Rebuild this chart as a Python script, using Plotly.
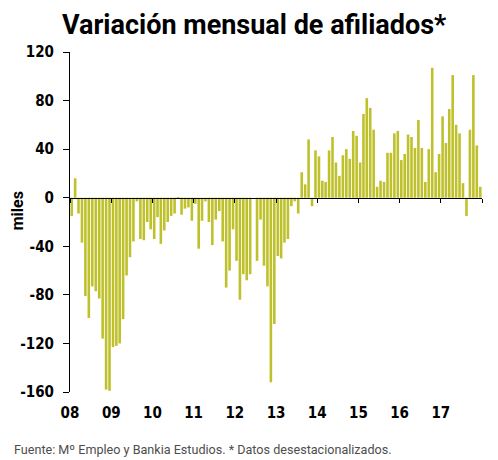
import pandas as pd
import plotly.graph_objects as go

# variacion mensual de afiliados (miles), datos desestacionalizados
v2008 = [-15, 16, -13, -37, -81, -99, -73, -77, -83, -116, -158, -159]
v2009 = [-123, -122, -120, -100, -64, -49, -36, -3, -34, -35, -20, -26]
v2010 = [-34, -16, -38, -27, -20, -15, -13, -1, -14, -9, -8, -19]
v2011 = [-5, -42, -19, -3, -20, -39, -18, -11, -36, -74, -60, -26]
v2012 = [-52, -84, -63, -68, -63, 0, -52, -18, -56, -73, -152, -104]
v2013 = [-48, -50, -37, -34, -7, -3, -13, 21, 11, 48, -7, 39]
v2014 = [34, 14, 13, 39, 50, 29, 18, 35, 40, 32, 55, 51]
v2015 = [29, 69, 82, 74, 56, 9, 14, 13, 37, 37, 53, 55]
v2016 = [31, 36, 52, 50, 41, 64, 41, 13, 40, 107, 21, 36]
v2017 = [67, 45, 73, 101, 60, 53, 12, -15, 56, 101, 43, 9]

year_labels = ["08", "09", "10", "11", "12", "13", "14", "15", "16", "17"]
y_ticks = [120, 80, 40, 0, -40, -80, -120, -160]

values = v2008 + v2009 + v2010 + v2011 + v2012 + v2013 + v2014 + v2015 + v2016 + v2017
months = pd.date_range("2008-01-01", periods=len(values), freq="MS")
year_starts = pd.date_range("2008-01-01", periods=len(year_labels) + 1, freq="YS")

bar_color = "#BFC12C"
tick_font = dict(family="DejaVu Sans Condensed, DejaVu Sans", size=15, color="black", weight="bold")

# the page has an 8px body margin, so the figure is a bit smaller than the window
W, H = 490, 452
L, R, T, B = 60, 16, 44, 68
pw, ph = W - L - R, H - T - B

fig = go.Figure()
fig.add_bar(x=months, y=values, xperiod="M1", xperiodalignment="middle",
            marker_color=bar_color, marker_line_width=0, showlegend=False)
# carries the zero line axis (ticks on the zero line)
fig.add_scatter(x=months, y=values, xaxis="x2", mode="none",
                hoverinfo="skip", showlegend=False)

x_range = [year_starts[0], year_starts[-1]]
zero_pos = (0 - y_ticks[-1]) / (y_ticks[0] - y_ticks[-1])

fig.update_layout(
    width=W, height=H,
    margin=dict(l=L, r=R, t=T, b=B),
    plot_bgcolor="white", paper_bgcolor="white",
    bargap=0.22,
    title=dict(text="<b>Variación mensual de afiliados*</b>",
               font=dict(family="Roboto", size=27, color="black"),
               xref="container", x=54 / W, xanchor="left",
               yref="container", y=1 - 17 / H, yanchor="middle"),
    xaxis=dict(type="date", range=x_range,
               tickvals=year_starts[:-1], ticktext=year_labels,
               ticks="", showline=False, showgrid=False, zeroline=False,
               tickfont=tick_font, ticklabelstandoff=10),
    xaxis2=dict(type="date", range=x_range, overlaying="x",
                anchor="free", position=zero_pos,
                tickvals=year_starts, showticklabels=False,
                ticks="outside", ticklen=4, tickcolor="black",
                showline=True, linecolor="black", linewidth=1.2,
                showgrid=False, zeroline=False),
    yaxis=dict(range=[y_ticks[-1], y_ticks[0]], tickvals=y_ticks,
               ticktext=[str(v) for v in y_ticks],
               ticks="outside", ticklen=6, tickcolor="black",
               showline=True, linecolor="black", linewidth=1,
               showgrid=False, zeroline=False,
               tickfont=tick_font, ticklabelstandoff=6),
)

fig.add_annotation(text="<b>miles</b>", textangle=-90,
                   xref="paper", yref="paper",
                   x=(7 - L) / pw, y=(T + ph - 203) / ph,
                   xanchor="center", yanchor="middle", showarrow=False,
                   font=dict(family="Roboto", size=16, color="black"))

fig.add_annotation(text="Fuente: Mº Empleo y Bankia Estudios. * Datos desestacionalizados.",
                   xref="paper", yref="paper",
                   x=(2 - L) / pw, y=(T + ph - 441) / ph,
                   xanchor="left", yanchor="middle", showarrow=False,
                   font=dict(family="Roboto", size=12.6, color="#4d4d4d"))

fig.write_html("out.html")
